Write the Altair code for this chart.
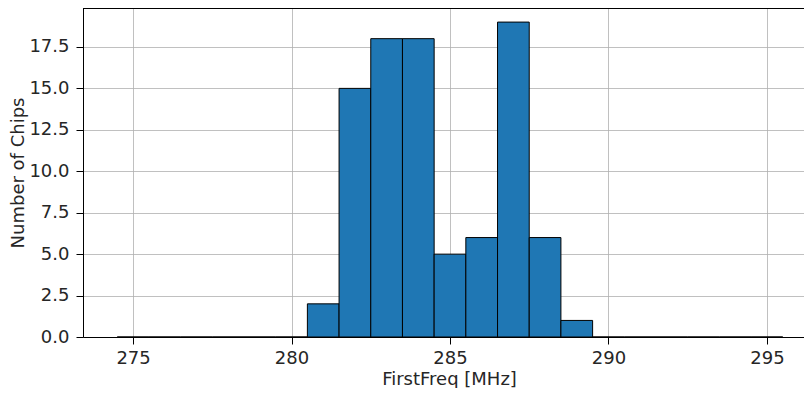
import altair as alt
import pandas as pd

bin_starts = [274.5, 275.5, 276.5, 277.5, 278.5, 279.5, 280.5, 281.5, 282.5, 283.5, 284.5,
              285.5, 286.5, 287.5, 288.5, 289.5, 290.5, 291.5, 292.5, 293.5, 294.5]
counts = [0, 0, 0, 0, 0, 0, 2, 15, 18, 18, 5, 6, 19, 6, 1, 0, 0, 0, 0, 0, 0]
bin_width = 1.0
x_ticks = [275, 280, 285, 290, 295]
y_ticks = [0, 2.5, 5, 7.5, 10, 12.5, 15, 17.5]

df = pd.DataFrame({
    "start": bin_starts,
    "end": [s + bin_width for s in bin_starts],
    "count": counts,
    "zero": [0] * len(counts),
})

FONT = "DejaVu Sans"
W, H = 721, 329

x = alt.X("start:Q",
          scale=alt.Scale(domain=[273.42, 296.17], nice=False, zero=False),
          axis=alt.Axis(values=x_ticks, title="FirstFreq [MHz]", format="d",
                        labelPadding=5, titleX=366, titleY=33,
                        titleBaseline="top", titleAlign="center"))
y = alt.Y("count:Q",
          scale=alt.Scale(domain=[0, 19.85], nice=False),
          axis=alt.Axis(values=y_ticks, title="Number of Chips", format=".1f",
                        labelPadding=7, titlePadding=1))

bars = alt.Chart(df).mark_rect(
    color="#1f77b4", stroke="black", strokeWidth=1
).encode(x=x, x2="end:Q", y=y, y2="zero:Q")

top = alt.Chart(df).mark_rule(color="black", strokeWidth=1).encode(
    x=alt.value(0), x2=alt.value(W), y=alt.value(0.5)
)

chart = alt.layer(bars, top).properties(
    width=W, height=H,
    autosize=alt.AutoSizeParams(type="none"),
    padding={"left": 75, "top": 0, "right": 0, "bottom": 51},
).configure_view(stroke=None).configure_axis(
    labelFont=FONT, titleFont=FONT,
    labelFontSize=18, titleFontSize=18,
    labelColor="#262626", titleColor="#262626",
    titleFontWeight="normal",
    domainColor="black", domainWidth=1,
    tickColor="black", tickSize=7, tickWidth=1,
    gridColor="#b0b0b0", gridWidth=0.8, grid=True,
)

chart.save("out.html", embed_options={"renderer": "svg", "actions": False})
